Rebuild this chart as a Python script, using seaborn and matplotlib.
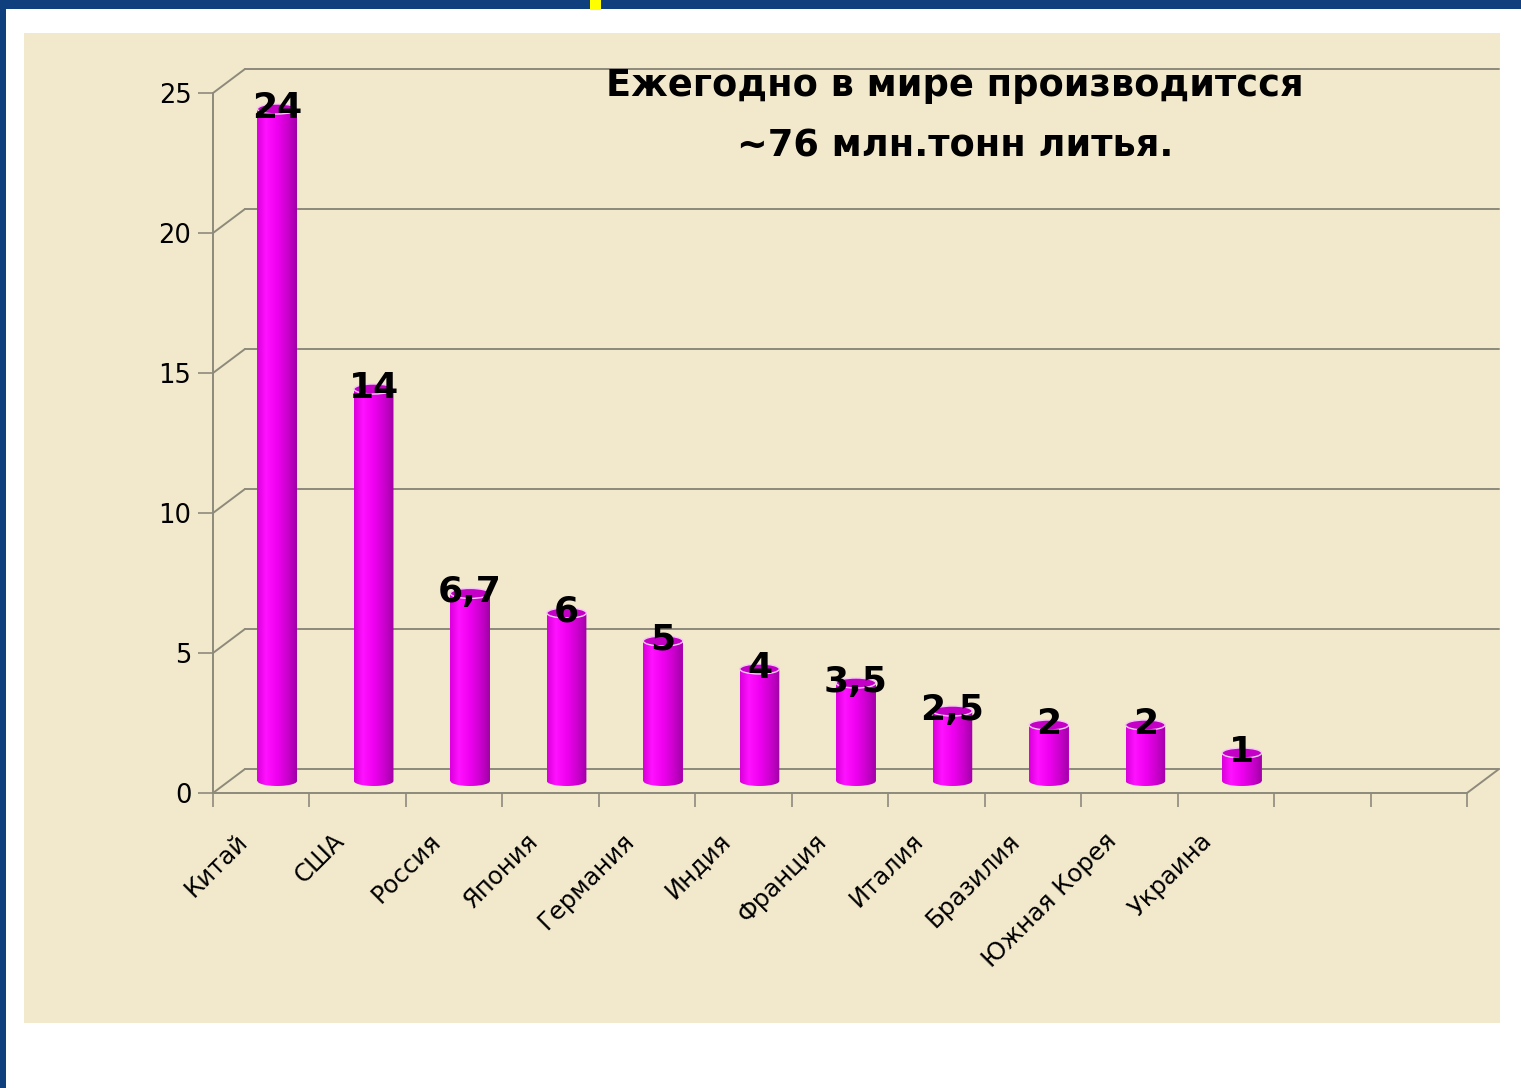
import numpy as np
import pandas as pd
import matplotlib
matplotlib.use("Agg")
import matplotlib.pyplot as plt
import seaborn as sns
from matplotlib.patches import Rectangle, Ellipse
from matplotlib.path import Path
from matplotlib.lines import Line2D
from matplotlib.colors import LinearSegmentedColormap
from matplotlib.transforms import ScaledTranslation

# Annual casting output by country, million tonnes
countries = ["Китай", "США", "Россия", "Япония", "Германия", "Индия",
             "Франция", "Италия", "Бразилия", "Южная Корея", "Украина"]
output_mt = [24, 14, 6.7, 6, 5, 4, 3.5, 2.5, 2, 2, 1]
n_slots = 13                      # category slots on the axis (two left empty)
y_ticks = [0, 5, 10, 15, 20, 25]
title_lines = ["Ежегодно в мире производитсся", "~76 млн.тонн литья."]

sns.set_theme(style="white")
plt.rcParams["font.family"] = ["DejaVu Sans"]
plt.rcParams["text.color"] = "black"
plt.rcParams["xtick.labelcolor"] = "black"
plt.rcParams["ytick.labelcolor"] = "black"

W, H, DPI = 1521, 1088, 100
fig = plt.figure(figsize=(W / DPI, H / DPI), dpi=DPI)
fig.patch.set_facecolor("white")

def px_rect(x0, y0, x1, y1, color, z):
    fig.add_artist(Rectangle((x0 / W, 1 - y1 / H), (x1 - x0) / W, (y1 - y0) / H,
                             transform=fig.transFigure, facecolor=color,
                             edgecolor="none", zorder=z))

# slide frame and chart panel
px_rect(0, 0, W, 9, "#0F3F7C", -5)
px_rect(0, 0, 6, H, "#0F3F7C", -5)
px_rect(590, 0, 601, 10, "#FFFF00", -4)
px_rect(24, 33, 1500, 1023, "#F2E9CC", -4)

GRID = "#8E8A7B"
left, right, y_zero, y_top = 213, 1467, 793, 93
dx, dy = 32, 24                   # depth offset of the back wall, pixels

def axes_at(ox, oy, z):
    a = fig.add_axes([(left + ox) / W, (H - y_zero + oy) / H,
                      (right - left) / W, (y_zero - y_top) / H], zorder=z)
    a.set_xlim(-0.5, n_slots - 0.5)
    a.set_ylim(0, 25)
    a.patch.set_alpha(0)
    return a

# back wall with horizontal gridlines
ax_back = axes_at(dx, dy, 0)
ax_back.set_yticks(y_ticks)
ax_back.set_xticks([])
ax_back.tick_params(left=False, labelleft=False)
for s in ax_back.spines.values():
    s.set_visible(False)
for v in y_ticks:
    ax_back.axhline(v, color=GRID, lw=1.4, clip_on=False)

# front axes with ticks and labels
ax = axes_at(0, 0, 1)
for s in ["top", "right"]:
    ax.spines[s].set_visible(False)
for s in ["left", "bottom"]:
    ax.spines[s].set_color(GRID)
    ax.spines[s].set_linewidth(1.4)
ax.set_yticks(y_ticks)
ax.set_yticklabels([str(v) for v in y_ticks], fontsize=18.5, color="black")
ax.tick_params(axis="y", direction="out", length=10.5, width=1.2, color=GRID,
               pad=5, left=True, labelcolor="black")
ax.set_xticks(np.arange(n_slots))
ax.set_xticklabels(countries + [""] * (n_slots - len(countries)),
                   rotation=45, ha="right", va="center", color="black",
                   rotation_mode="anchor", fontsize=17.5)
ax.tick_params(axis="x", length=0, pad=32, labelcolor="black")
ax.set_xticks(np.arange(n_slots + 1) - 0.5, minor=True)
ax.tick_params(axis="x", which="minor", direction="out", length=10, width=1.2,
               color=GRID, bottom=True)
shift = ScaledTranslation(-17 / DPI, 0, fig.dpi_scale_trans)
for lab in ax.get_xticklabels():
    lab.set_transform(lab.get_transform() + shift)

# depth edges joining the front axis to the back wall
def join(xv, yv):
    p0 = ax.transData.transform((xv, yv))
    p1 = ax_back.transData.transform((xv, yv))
    f = fig.transFigure.inverted()
    a, b = f.transform(p0), f.transform(p1)
    fig.add_artist(Line2D([a[0], b[0]], [a[1], b[1]], color=GRID, lw=1.4,
                          transform=fig.transFigure, zorder=0.5))

for v in y_ticks:
    join(-0.5, v)
join(n_slots - 0.5, 0)

# cylinders, standing half way into the depth
ax_bars = axes_at(dx / 2, dy / 2, 2)
df = pd.DataFrame({"country": countries, "value": output_mt})
sns.barplot(data=df, x="country", y="value", order=countries, ax=ax_bars,
            color="#F000F0", width=0.41, saturation=1, edgecolor="none")
ax_bars.set_axis_off()

cmap = LinearSegmentedColormap.from_list(
    "cyl", [(0.0, "#D800D8"), (0.22, "#FF12FF"), (0.5, "#F000F0"),
            (0.8, "#C600C8"), (1.0, "#A000A6")])
grad = np.linspace(0, 1, 128)[None, :]
b = 5.0 / 28.0                    # ellipse semi-axis in data units

for patch, v in zip(ax_bars.patches, output_mt):
    x0 = patch.get_x()
    w = patch.get_width()
    h = patch.get_height()
    xc = x0 + w / 2
    t = np.linspace(np.pi, 2 * np.pi, 40)
    verts = [(x0, h), (x0, 0)] + [(xc + w / 2 * np.cos(a), b * np.sin(a)) for a in t] \
        + [(x0 + w, h), (x0, h)]
    body = Path(verts, closed=True)
    im = ax_bars.imshow(grad, cmap=cmap, aspect="auto", extent=[x0, x0 + w, -b, h],
                        origin="lower", zorder=3, interpolation="bilinear")
    im.set_clip_path(body, ax_bars.transData)
    im.set_clip_box(fig.bbox)
    cap = Ellipse((xc, h), w, 2 * b, facecolor="#C400C6", edgecolor="#F6C8F6",
                  lw=1.0, zorder=4, clip_on=False)
    ax_bars.add_patch(cap)
    ax_bars.text(xc, h + 0.05, f"{v:g}".replace(".", ","), ha="center", va="center",
                 fontsize=26, fontweight="bold", color="black", zorder=6,
                 clip_on=False)

ax_bars.set_xlim(-0.5, n_slots - 0.5)
ax_bars.set_ylim(0, 25)

# heading
for i, line in enumerate(title_lines):
    fig.text(955 / W, 1 - (86 + 60 * i) / H, line, ha="center", va="center",
             fontsize=26.5, fontweight="bold", color="black", zorder=10)

fig.savefig("out.png", dpi=DPI)
